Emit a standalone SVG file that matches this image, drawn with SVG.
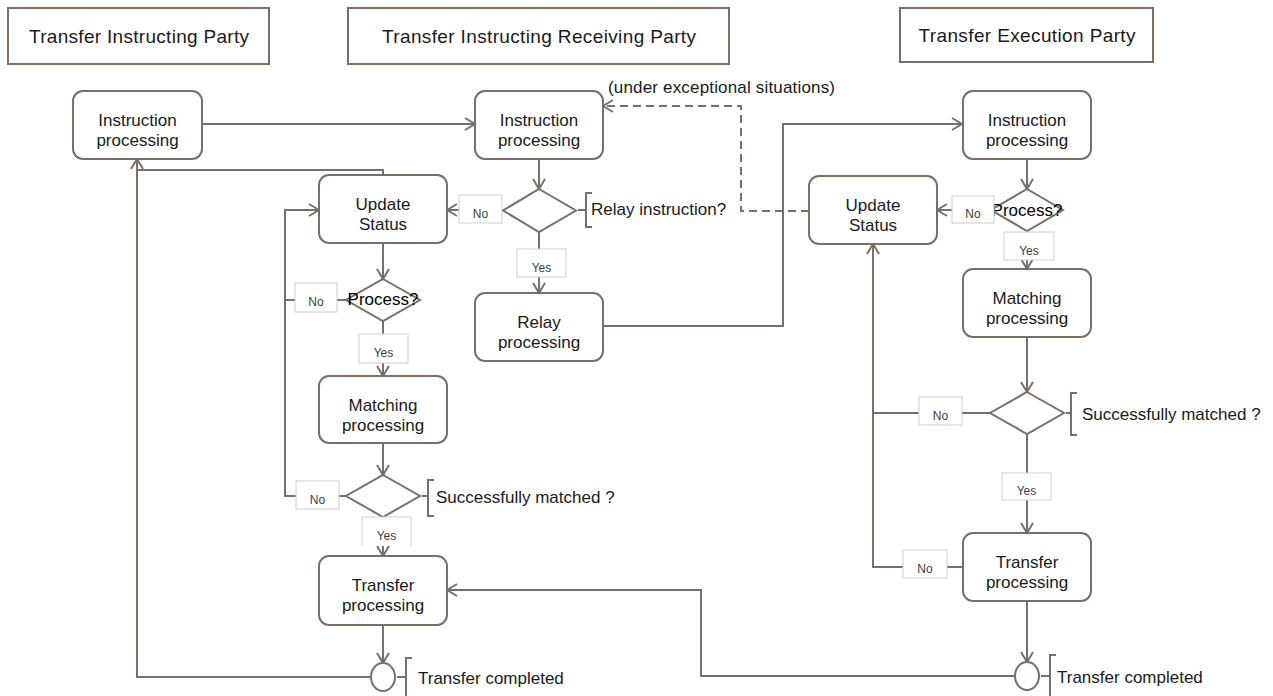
<svg xmlns="http://www.w3.org/2000/svg" width="1273" height="696" viewBox="0 0 1273 696">
<style>
text{font-family:"Liberation Sans",Arial,sans-serif;fill:#1a1a1a}
.hdr rect{fill:#fff;stroke:#7a6f68;stroke-width:2}
.hdr text{font-size:19px;text-anchor:middle}
.node rect{fill:#fff;stroke:#7a6f68;stroke-width:2}
.node text{font-size:17px;text-anchor:middle}
.dec polygon{fill:#fff;stroke:#7a6f68;stroke-width:2}
.dec text{font-size:17px;text-anchor:middle;fill:#000}
.term ellipse{fill:#fff;stroke:#7a6f68;stroke-width:2}
#connectors path{fill:none;stroke:#7a6f68;stroke-width:2}
#connectors path.arr{marker-end:url(#ah)}
#connectors path.dash{stroke-dasharray:8 5}
.lbl rect{fill:#fff;stroke:#cfcfcf;stroke-width:1}
.lbl path{fill:none;stroke:#cfcfcf;stroke-width:1}
.lbl text{font-size:12px;text-anchor:middle;fill:#404040}
.ann path{fill:none;stroke:#7a6f68;stroke-width:2}
.ann text{font-size:17px}
</style>
<defs>
<marker id="ah" viewBox="0 0 12 14" refX="11" refY="7" markerWidth="12" markerHeight="14" markerUnits="userSpaceOnUse" orient="auto">
<path d="M1,1 L11,7 L1,13" fill="none" stroke="#7a6f68" stroke-width="2"/>
</marker>
</defs>

<g id="header-instructing" class="hdr"><rect x="8" y="8" width="261" height="56"/><text x="139" y="43" textLength="220" lengthAdjust="spacing">Transfer Instructing Party</text></g>
<g id="header-receiving" class="hdr"><rect x="348" y="8" width="381" height="56"/><text x="539" y="43" textLength="314" lengthAdjust="spacing">Transfer Instructing Receiving Party</text></g>
<g id="header-execution" class="hdr"><rect x="900" y="8" width="253" height="54"/><text x="1027" y="42" textLength="217" lengthAdjust="spacing">Transfer Execution Party</text></g>

<g id="connectors">
<path class="arr" d="M202,124 H475"/>
<path class="arr" d="M539,159 V189"/>
<path class="arr" d="M503,210 H447"/>
<path class="arr" d="M539,232 V293"/>
<path class="arr" d="M603,326 H783 V124 H962"/>
<path class="arr dash" d="M809,211 H741 V106 H603"/>
<path class="arr" d="M383,175 V170 H137 V159"/>
<path d="M371,677 H137 V170"/>
<path class="arr" d="M383,243 V279"/>
<path d="M346,300 H285"/>
<path class="arr" d="M346,496 H285 V210 H319"/>
<path class="arr" d="M383,321 V376"/>
<path class="arr" d="M383,443 V475"/>
<path class="arr" d="M383,517 V556"/>
<path class="arr" d="M383,625 V663"/>
<path class="arr" d="M1015,676 H701 V590 H447"/>
<path class="arr" d="M1027,159 V189"/>
<path class="arr" d="M991,210 H937"/>
<path class="arr" d="M1027,231 V269"/>
<path class="arr" d="M1027,337 V392"/>
<path class="arr" d="M990,413 H873 V244"/>
<path d="M963,567 H873 V413"/>
<path class="arr" d="M1027,434 V533"/>
<path class="arr" d="M1027,601 V662"/>
</g>

<g id="node-instr-left" class="node"><rect x="73" y="91" width="129" height="68" rx="10"/><text x="137.5" y="126">Instruction</text><text x="137.5" y="146">processing</text></g>
<g id="node-instr-mid" class="node"><rect x="475" y="91" width="128" height="68" rx="10"/><text x="539" y="126">Instruction</text><text x="539" y="146">processing</text></g>
<g id="node-instr-right" class="node"><rect x="963" y="91" width="128" height="68" rx="10"/><text x="1027" y="126">Instruction</text><text x="1027" y="146">processing</text></g>
<g id="node-update-left" class="node"><rect x="319" y="175" width="128" height="68" rx="10"/><text x="383" y="210">Update</text><text x="383" y="230">Status</text></g>
<g id="node-update-right" class="node"><rect x="809" y="176" width="128" height="68" rx="10"/><text x="873" y="211">Update</text><text x="873" y="231">Status</text></g>
<g id="node-relay" class="node"><rect x="475" y="293" width="128" height="68" rx="10"/><text x="539" y="328">Relay</text><text x="539" y="348">processing</text></g>
<g id="node-matching-left" class="node"><rect x="319" y="376" width="128" height="67" rx="10"/><text x="383" y="411">Matching</text><text x="383" y="431">processing</text></g>
<g id="node-matching-right" class="node"><rect x="963" y="269" width="128" height="68" rx="10"/><text x="1027" y="304">Matching</text><text x="1027" y="324">processing</text></g>
<g id="node-transfer-left" class="node"><rect x="319" y="556" width="128" height="69" rx="10"/><text x="383" y="591">Transfer</text><text x="383" y="611">processing</text></g>
<g id="node-transfer-right" class="node"><rect x="963" y="533" width="128" height="68" rx="10"/><text x="1027" y="568">Transfer</text><text x="1027" y="588">processing</text></g>

<g id="dec-relay" class="dec"><polygon points="539,189 576,210.5 539,232 503,210.5"/></g>
<g id="dec-process-left" class="dec"><polygon points="383,279 420,300 383,321 346,300"/><text x="383" y="305">Process?</text></g>
<g id="dec-matched-left" class="dec"><polygon points="383,475 420,496 383,517 346,496"/></g>
<g id="dec-process-right" class="dec"><polygon points="1027,189 1063,210 1027,231 991,210"/><text x="1027" y="216">Process?</text></g>
<g id="dec-matched-right" class="dec"><polygon points="1027,392 1064,413 1027,434 990,413"/></g>

<g id="end-left" class="term"><ellipse cx="383" cy="677" rx="12" ry="14"/></g>
<g id="end-right" class="term"><ellipse cx="1027" cy="676" rx="12" ry="14"/></g>

<g id="labels" class="lbl">
<rect x="459" y="195" width="43" height="28"/><text x="480.5" y="218">No</text>
<rect x="517" y="249" width="49" height="28"/><text x="541.5" y="272">Yes</text>
<rect x="295" y="283" width="42" height="29"/><text x="316" y="306">No</text>
<rect x="359" y="334" width="49" height="29"/><text x="383.5" y="357">Yes</text>
<rect x="296" y="481" width="43" height="28"/><text x="317.5" y="504">No</text>
<rect x="362" y="517" width="49" height="29" stroke="none" fill="#fff" style="stroke:none"/><path d="M362,546 V517 H411 V546"/><text x="386.5" y="540">Yes</text>
<rect x="952" y="196" width="42" height="27"/><text x="973" y="218">No</text>
<rect x="1004" y="232" width="50" height="28"/><text x="1029" y="255">Yes</text>
<rect x="919" y="397" width="43" height="28"/><text x="940.5" y="420">No</text>
<rect x="1002" y="473" width="49" height="27"/><text x="1026.5" y="495">Yes</text>
<rect x="903" y="550" width="44" height="28"/><text x="925" y="573">No</text>
</g>

<g id="annotations" class="ann">
<text x="608" y="93" textLength="227" lengthAdjust="spacing">(under exceptional situations)</text>
<path d="M578,210 H586 M592,193 H586 V227 H592"/>
<text x="591" y="215">Relay instruction?</text>
<path d="M422,496 H428 M434,480 H428 V516 H434"/>
<text x="436" y="503">Successfully matched ?</text>
<path d="M1066,413 H1071 M1077,393 H1071 V435 H1077"/>
<text x="1082" y="420">Successfully matched ?</text>
<path d="M397,677 H406 M412,658 H406 V700"/>
<text x="418" y="684">Transfer completed</text>
<path d="M1041,676 H1050 M1056,655 H1050 V700"/>
<text x="1057" y="683">Transfer completed</text>
</g>
</svg>
